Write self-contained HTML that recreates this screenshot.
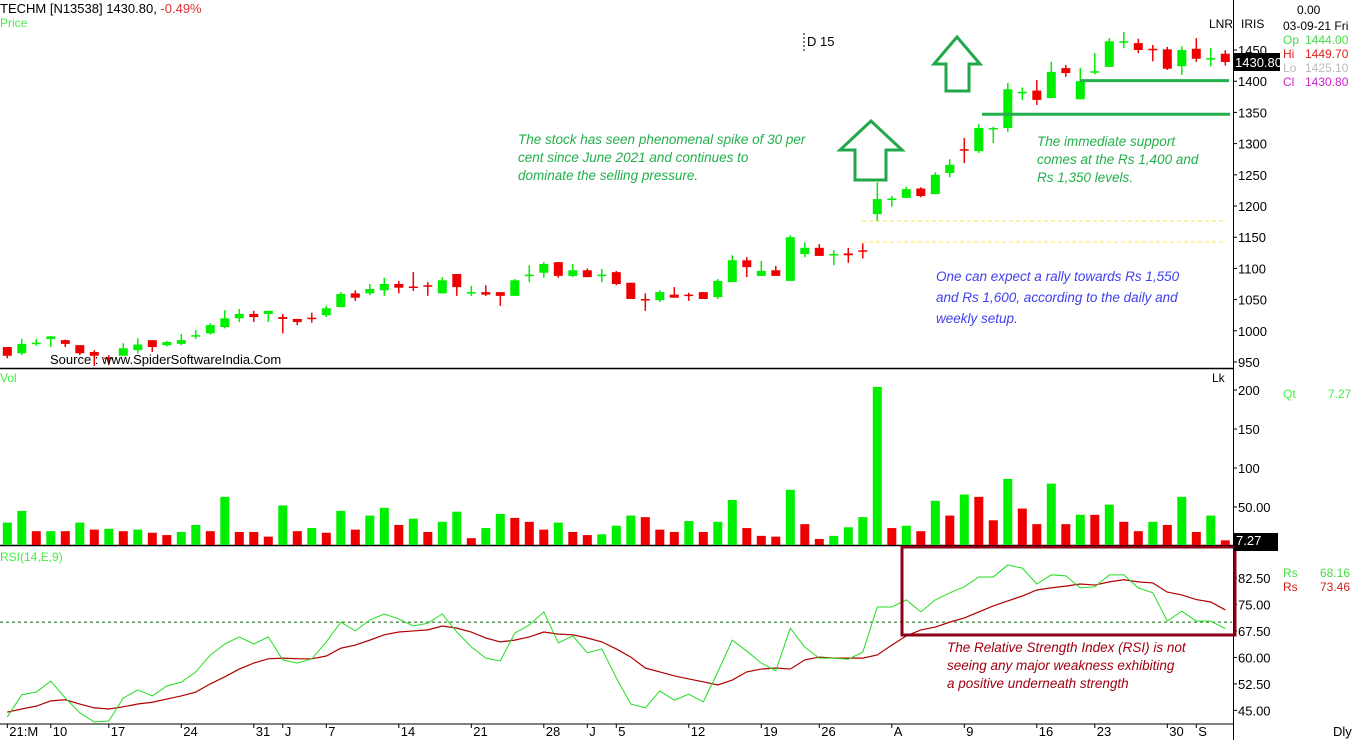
<!DOCTYPE html>
<html><head><meta charset="utf-8"><style>
body{margin:0;background:#fff;width:1352px;height:740px;overflow:hidden;font-family:"Liberation Sans",sans-serif}
svg{display:block}
</style></head><body>
<svg id="c" width="1352" height="740" font-family="Liberation Sans, sans-serif" font-size="12">
<rect width="1352" height="740" fill="#fff"/>
</svg>
<script>
const opens=[974,964,979,987,985,977,966,957,960,969,985,977,979,991,996,1006,1020,1027,1027,1022,1019,1021,1025,1038,1060,1060,1065,1075,1071,1073,1060,1091,1060,1062,1062,1056,1088,1093,1110,1088,1097,1088,1094,1077,1051,1049,1058,1058,1062,1054,1078,1113,1088,1097,1080,1123,1133,1122,1124,1129,1187,1210,1213,1228,1219,1253,1291,1288,1323,1325,1382,1385,1373,1421,1371,1415,1423,1463,1461,1452,1451,1424,1452,1436,1444];
const highs=[974,987,987,992,986,977,969,961,980,988,985,984,995,1001,1012,1033,1035,1032,1032,1027,1019,1029,1040,1062,1065,1075,1085,1080,1094,1078,1086,1091,1072,1073,1062,1083,1105,1110,1110,1107,1100,1099,1096,1077,1060,1065,1070,1061,1062,1083,1121,1118,1112,1104,1153,1142,1139,1129,1133,1140,1238,1216,1231,1230,1254,1275,1309,1331,1327,1397,1390,1402,1431,1426,1421,1445,1469,1479,1468,1458,1455,1456,1469,1453,1449.7];
const lows=[956,961,976,974,974,961,944,945,960,964,966,975,977,987,994,1004,1014,1014,1014,996,1009,1013,1022,1038,1048,1057,1056,1060,1064,1056,1060,1056,1056,1056,1040,1056,1078,1085,1085,1086,1086,1078,1073,1051,1032,1046,1053,1048,1051,1051,1078,1086,1088,1088,1080,1118,1120,1105,1109,1116,1176,1199,1213,1214,1219,1246,1269,1285,1301,1319,1370,1362,1373,1407,1371,1411,1423,1453,1445,1432,1418,1410,1431,1424,1425.1];
const closes=[960,979,981,991,979,964,960,956,972,978,974,982,985,993,1009,1020,1027,1022,1032,1019,1014,1020,1036,1059,1053,1067,1075,1069,1070,1071,1081,1070,1062,1058,1056,1081,1090,1107,1088,1097,1086,1090,1075,1051,1049,1062,1053,1057,1051,1080,1113,1102,1096,1088,1150,1133,1120,1123,1121,1128,1211,1212,1227,1216,1250,1266,1289,1325,1325,1387,1383,1370,1415,1413,1400,1416,1464,1464,1450,1450,1420,1450,1436,1437,1430.8];
const volumes=[30,45,19,19,19,30,21,22,19,21,17,14,18,27,19,63,18,18,12,52,19,23,17,45,21,39,49,27,35,18,31,44,10,23,41,36,31,21,30,18,14,15,26,39,37,21,18,32,18,31,59,23,13,12,72,28,9,13,24,37,204,23,26,19,58,39,66,63,33,86,48,28,80,28,40,40,53,31,19,31,27,63,18,39,7.27];
const volUp=[1,1,0,1,0,1,0,1,0,1,0,0,1,1,0,1,0,0,0,1,0,1,0,1,0,1,1,0,1,0,1,1,0,1,1,0,0,0,1,0,0,1,1,1,0,0,0,1,0,1,1,0,0,0,1,0,0,1,1,1,1,0,1,0,1,0,1,0,0,1,0,0,1,0,1,0,1,0,0,1,0,1,0,1,0];
const rsiValues=[43.1,49.4,50.2,53.3,48.5,44.3,41.7,42,48.5,50.8,49.1,51.9,53,55.9,60.7,63.8,65.8,63.8,65.8,59.3,58.4,59.6,64.4,70,67.5,70.6,72.3,70.9,68.9,69.7,72.3,67.2,63,59.8,59,66.9,69.2,72.9,64.1,66.1,61.3,62.4,54.2,46.8,45.7,50.5,47.9,49.6,47.4,55.9,64.9,61.8,58.4,56.2,68.3,62.9,59.8,59.8,59.5,61.5,74.3,74.3,76.3,72.9,76.3,78.3,80,82.8,82.8,86.2,85.3,80.8,83.4,83.1,79.7,80,83.4,83.4,79.7,78.3,70.3,73.1,70.3,70.3,68.16];
const signalValues=[44.5,45.4,46.2,47.7,48,46.8,45.7,45.4,46,46.8,47.3,48.2,49.1,50.2,52.5,54.5,56.7,58.4,59.6,59.8,59.6,59.6,60.4,62.6,63.5,64.9,66.4,67.2,67.5,67.8,68.9,68.3,67.2,65.5,64.4,64.9,65.8,67.2,66.6,66.4,65.5,64.4,62.4,60.1,57,55.9,54.8,53.9,53.1,52.2,53.6,55.9,56.7,57,56.7,59.3,60.1,59.8,59.8,59.8,60.7,63.5,66.1,67.8,68.6,70,71.2,72.9,74.6,76,77.4,79.1,79.7,80.2,80.8,80.5,81.4,82,81.4,81.1,78.5,77.7,76.4,75.7,73.46];
const priceTicks=[1450,1400,1350,1300,1250,1200,1150,1100,1050,1000,950];
const volTicks=[200,150,100,50];
const volTickLabels=["200","150","100","50.00"];
const rsiTicks=[82.5,75,67.5,60,52.5,45];
const dateIdx=[0,3,7,12,17,19,22,27,32,37,40,42,47,52,56,61,66,71,75,80,82];
const dateLabels=["21:M","10","17","24","31","J","7","14","21","28","J","5","12","19","26","A","9","16","23","30","S"];

const svg=document.getElementById('c');
const NS='http://www.w3.org/2000/svg';
function mk(tag,attrs,parent){const e=document.createElementNS(NS,tag);for(const k in attrs)e.setAttribute(k,attrs[k]);(parent||svg).appendChild(e);return e;}
const xOf=i=>7.3+14.5*i;
const yP=p=>50+(1450-p)*0.624;
const yV=v=>546-v*0.78;
const yR=r=>578+(82.5-r)*3.53;
const G='#00ee00',R='#ee0000';

// panel lines
let e;
e=mk('line',{x1:0,y1:368.5,x2:1234,y2:368.5,stroke:'#000','stroke-width':1.5});

e=mk('line',{x1:0,y1:545.5,x2:1234,y2:545.5,stroke:'#000','stroke-width':1.5});

e=mk('line',{x1:0,y1:724,x2:1234,y2:724,stroke:'#000','stroke-width':1});

e=mk('line',{x1:1233.5,y1:0,x2:1233.5,y2:740,stroke:'#000','stroke-width':1});


// price ticks
priceTicks.forEach(p=>{const y=yP(p);
 e=mk('line',{x1:1233,y1:y,x2:1237,y2:y,stroke:'#000'});
 
 e=mk('text',{x:1238,y:y+5,'font-size':13});e.textContent=p;
 });
volTicks.forEach((v,k)=>{const y=yV(v);
 e=mk('line',{x1:1233,y1:y,x2:1237,y2:y,stroke:'#000'});
 
 e=mk('text',{x:1238,y:y+5,'font-size':13});e.textContent=volTickLabels[k];
 });
rsiTicks.forEach(r=>{const y=yR(r);
 e=mk('line',{x1:1233,y1:y,x2:1237,y2:y,stroke:'#000'});
 
 e=mk('text',{x:1238,y:y+5,'font-size':13});e.textContent=r.toFixed(2);
 });
dateLabels.forEach((t,k)=>{const x=xOf(dateIdx[k]);
 e=mk('line',{x1:x,y1:724,x2:x,y2:728,stroke:'#000'});
 
 e=mk('text',{x:x+2,y:736,'font-size':13});e.textContent=t;
 });

// yellow dashed lines
[221,242].forEach(y=>{e=mk('line',{x1:862,y1:y,x2:1225,y2:y,stroke:'#f5e94a','stroke-width':1,'stroke-dasharray':'4,3'});
 });

// candles
opens.forEach((o,i)=>{const c=closes[i],x=xOf(i),col=c>=o?G:R;
 e=mk('line',{x1:x,y1:yP(highs[i]),x2:x,y2:yP(lows[i]),stroke:col,'stroke-width':1.5});
 
 const t=yP(Math.max(o,c)),b=yP(Math.min(o,c));
 e=mk('rect',{x:x-4.5,y:t,width:9,height:Math.max(b-t,1.5),fill:col});
 });

// support lines
e=mk('line',{x1:1080,y1:yP(1401),x2:1229,y2:yP(1401),stroke:'#22b14c','stroke-width':3});

e=mk('line',{x1:982,y1:yP(1347),x2:1230,y2:yP(1347),stroke:'#22b14c','stroke-width':3});


// arrows
e=mk('polygon',{points:'871,121 902,150 886,150 886,180 855,180 855,150 840,150',fill:'none',stroke:'#22a84a','stroke-width':3});

e=mk('polygon',{points:'957,37 980,64 969,64 969,91 946,91 946,64 934,64',fill:'none',stroke:'#22a84a','stroke-width':3});


// volume
volumes.forEach((v,i)=>{const y=yV(v);
 e=mk('rect',{x:xOf(i)-4.5,y:y,width:9,height:545-y,fill:volUp[i]?G:R});
 });

// rsi
e=mk('line',{x1:0,y1:yR(70),x2:1232,y2:yR(70),stroke:'#006400','stroke-dasharray':'3,3'});

e=mk('polyline',{points:signalValues.map((v,i)=>xOf(i)+','+yR(v)).join(' '),fill:'none',stroke:'#b00000','stroke-width':1.2});

e=mk('polyline',{points:rsiValues.map((v,i)=>xOf(i)+','+yR(v)).join(' '),fill:'none',stroke:'#22dd22','stroke-width':1});

e=mk('rect',{x:902,y:547,width:333,height:88,fill:'none',stroke:'#8b0016','stroke-width':3});


// value boxes
e=mk('rect',{x:1234,y:53,width:46,height:18,fill:'#000'});

e=mk('text',{x:1235,y:67,fill:'#fff','font-size':13});e.textContent='1430.80';

e=mk('rect',{x:1234,y:533,width:44,height:18,fill:'#000'});

e=mk('text',{x:1236,y:545,fill:'#fff','font-size':13});e.textContent='7.27';


function txt(x,y,s,attrs,name){const t=mk('text',Object.assign({x:x,y:y},attrs||{}));t.textContent=s;
 return t;}
// header
const h=txt(0,13,'',{'font-size':13},'chart-title');
h.innerHTML='TECHM [N13538] 1430.80, <tspan fill="#e03030"> -0.49%</tspan>';
txt(0,27,'Price',{fill:'#44ee44','font-size':12},'price-panel-label');
txt(0,382,'Vol',{fill:'#44ee44','font-size':12},'volume-panel-label');
txt(0,561,'RSI(14,E,9)',{fill:'#44ee44','font-size':12},'rsi-panel-label');
txt(50,364,'Source : www.SpiderSoftwareIndia.Com',{'font-size':13},'source-label');
txt(807,46,'D 15',{'font-size':13},'interval-label');
e=mk('line',{x1:804,y1:33,x2:804,y2:51,stroke:'#000','stroke-dasharray':'2,2'});

txt(1209,28,'LNR',{'font-size':12},'lnr-label');
txt(1241,28,'IRIS',{'font-size':12},'iris-label');
txt(1297,14,'0.00',{'font-size':12},'change-value');
txt(1283,30,'03-09-21 Fri',{'font-size':12},'date-value');
txt(1283,44,'Op',{fill:'#44dd44','font-size':12},'open-label');txt(1305,44,'1444.00',{fill:'#44dd44','font-size':12},'open-value');
txt(1283,58,'Hi',{fill:'#dd2020','font-size':12},'high-label');txt(1305,58,'1449.70',{fill:'#dd2020','font-size':12},'high-value');
txt(1283,72,'Lo',{fill:'#bbbbbb','font-size':12},'low-label');txt(1305,72,'1425.10',{fill:'#bbbbbb','font-size':12},'low-value');
txt(1283,86,'Cl',{fill:'#cc22cc','font-size':12},'close-label');txt(1305,86,'1430.80',{fill:'#cc22cc','font-size':12},'close-value');
txt(1212,382,'Lk',{'font-size':12},'volume-unit');
txt(1283,398,'Qt',{fill:'#44ee44','font-size':12},'qty-label');txt(1328,398,'7.27',{fill:'#44ee44','font-size':12},'qty-value');
txt(1283,577,'Rs',{fill:'#44dd44','font-size':12},'rsi-label');txt(1320,577,'68.16',{fill:'#44dd44','font-size':12},'rsi-value');
txt(1283,591,'Rs',{fill:'#cc2020','font-size':12},'signal-label');txt(1320,591,'73.46',{fill:'#cc2020','font-size':12},'signal-value');
txt(1333,736,'Dly',{'font-size':13},'period-label');
// annotations
const an={'font-size':13.5,'font-style':'italic'};
[['The stock has seen phenomenal spike of 30 per',144],['cent since June 2021 and continues to',162],['dominate the selling pressure.',180]].forEach(a=>txt(518,a[1],a[0],Object.assign({fill:'#22b04a'},an),'annotation-spike'));
[['The immediate support',146],['comes at the Rs 1,400 and',164],['Rs 1,350 levels.',182]].forEach(a=>txt(1037,a[1],a[0],Object.assign({fill:'#22b04a'},an),'annotation-support'));
[['One can expect a rally towards Rs 1,550',281],['and Rs 1,600, according to the daily and',302],['weekly setup.',323]].forEach(a=>txt(936,a[1],a[0],Object.assign({fill:'#4040ee'},an),'annotation-target'));
[['The Relative Strength Index (RSI) is not',652],['seeing any major weakness exhibiting',670],['a positive underneath strength',688]].forEach(a=>txt(947,a[1],a[0],Object.assign({fill:'#a00010'},an),'annotation-rsi'));
</script>
</body></html>
